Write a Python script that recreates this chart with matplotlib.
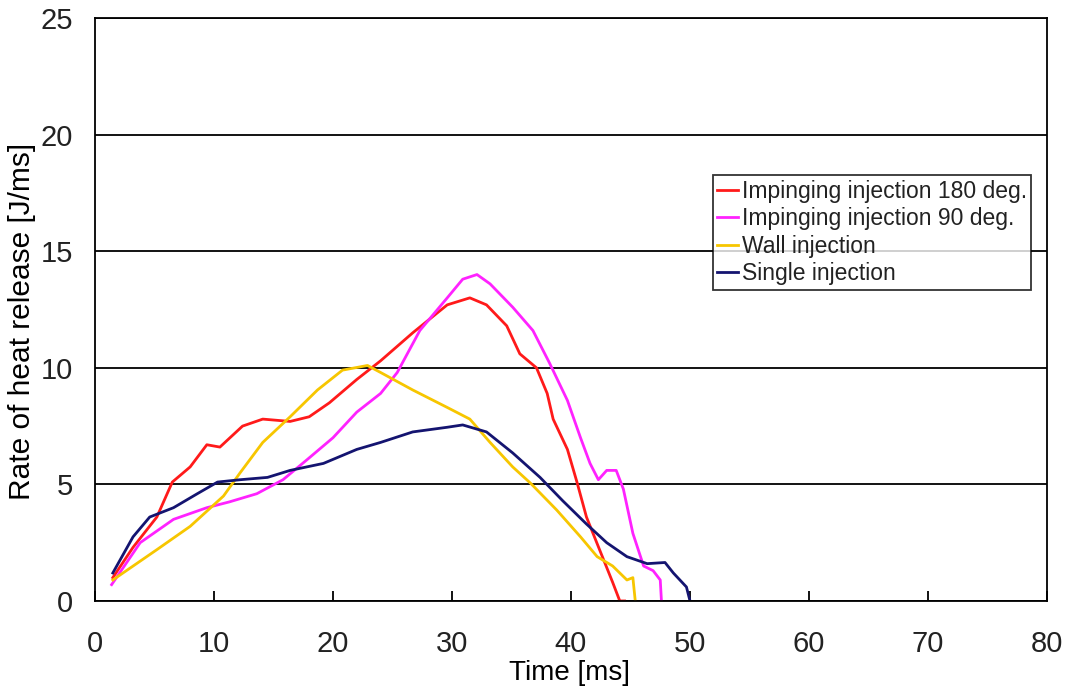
import matplotlib
matplotlib.use("Agg")
import matplotlib.pyplot as plt

# Impinging injection 180 deg.
red_x = [1.5, 3.2, 5.2, 6.5, 8.0, 9.4, 10.5, 12.4, 14.1, 16.4, 18.0, 19.7, 22.0, 24.0,
         26.7, 29.6, 31.5, 32.9, 34.6, 35.7, 37.1, 38.0, 38.5, 39.7, 40.5, 41.3, 42.4, 43.5, 44.1, 44.5]
red_y = [1.0, 2.3, 3.6, 5.1, 5.75, 6.7, 6.6, 7.5, 7.8, 7.7, 7.9, 8.5, 9.5, 10.3,
         11.5, 12.7, 13.0, 12.7, 11.8, 10.6, 10.0, 8.9, 7.8, 6.5, 5.1, 3.6, 2.2, 0.8, 0.0, 0.0]

# Impinging injection 90 deg.
mag_x = [1.4, 3.8, 6.6, 9.4, 11.3, 13.6, 15.8, 17.8, 20.0, 22.0, 24.0, 25.4, 27.3, 29.6,
         30.9, 32.1, 33.2, 35.1, 36.8, 38.2, 39.7, 40.8, 41.6, 42.3, 43.0, 43.8, 44.4, 45.2,
         46.1, 46.9, 47.5, 47.6]
mag_y = [0.7, 2.5, 3.5, 4.0, 4.25, 4.6, 5.2, 6.05, 7.0, 8.1, 8.9, 9.8, 11.6, 13.0,
         13.8, 14.0, 13.6, 12.6, 11.6, 10.2, 8.6, 7.0, 5.9, 5.2, 5.6, 5.6, 4.8, 2.9,
         1.5, 1.3, 0.9, 0.0]

# Wall injection
yel_x = [1.5, 5.2, 8.0, 10.8, 12.2, 14.1, 16.4, 18.7, 20.8, 22.9, 24.0, 26.7, 29.6, 31.5,
         33.2, 35.1, 36.6, 38.8, 40.8, 42.2, 43.5, 44.7, 45.2, 45.4]
yel_y = [0.9, 2.2, 3.2, 4.5, 5.5, 6.8, 7.9, 9.05, 9.9, 10.1, 9.8, 9.05, 8.3, 7.8,
         6.8, 5.75, 5.05, 3.9, 2.75, 1.9, 1.5, 0.9, 1.0, 0.0]

# Single injection
nav_x = [1.5, 3.2, 4.6, 6.6, 8.6, 10.3, 12.2, 14.5, 16.4, 19.2, 22.0, 24.0, 26.7, 29.6,
         30.9, 32.9, 35.1, 37.4, 39.3, 41.3, 43.0, 44.7, 46.4, 47.9, 48.6, 49.7, 50.0]
nav_y = [1.2, 2.75, 3.6, 4.0, 4.6, 5.1, 5.2, 5.3, 5.6, 5.9, 6.5, 6.8, 7.25, 7.45,
         7.55, 7.25, 6.35, 5.3, 4.3, 3.3, 2.5, 1.9, 1.6, 1.65, 1.2, 0.6, 0.0]

labels = ["Impinging injection 180 deg.", "Impinging injection 90 deg.",
          "Wall injection", "Single injection"]
x_ticks = [0, 10, 20, 30, 40, 50, 60, 70, 80]
y_ticks = [0, 5, 10, 15, 20, 25]

plt.rcParams['font.family'] = ['Liberation Sans', 'DejaVu Sans']
plt.rcParams['text.color'] = '#222222'

fig = plt.figure(figsize=(10.73, 6.95), dpi=100)
ax = fig.add_axes([0.0885, 0.1353, 0.8873, 0.8387])

ax.plot(red_x, red_y, color='#ff1a1a', lw=2.0, label=labels[0])
ax.plot(mag_x, mag_y, color='#ff22ff', lw=2.0, label=labels[1])
ax.plot(yel_x, yel_y, color='#f7c600', lw=2.0, label=labels[2])
ax.plot(nav_x, nav_y, color='#141470', lw=2.0, label=labels[3])

ax.set_xlim(0, 80)
ax.set_ylim(0, 25)
ax.set_xticks(x_ticks)
ax.set_yticks(y_ticks)
ax.yaxis.grid(True, color='black', lw=1.3)
ax.set_axisbelow(True)
for s in ax.spines.values():
    s.set_color('black')
    s.set_linewidth(1.3)
ax.tick_params(axis='x', direction='in', length=7, width=1.3, labelsize=21, pad=21,
               labelcolor='#222222')
ax.tick_params(axis='y', length=0, labelsize=21, pad=16, labelcolor='#222222')

ax.set_xlabel("Time [ms]", fontsize=20)
ax.xaxis.set_label_coords(0.498, -0.101)
ax.xaxis.label.set_va('top')
ax.set_ylabel("Rate of heat release [J/ms]", fontsize=21.5)
ax.yaxis.set_label_coords(-0.062, 0.48)

leg = ax.legend(loc='upper left', bbox_to_anchor=(0.649, 0.7307), fontsize=16.5,
                frameon=True, fancybox=False, edgecolor='black', handlelength=0.9,
                handletextpad=0.15, borderpad=0.2, labelspacing=0.2, borderaxespad=0)
leg.get_frame().set_linewidth(1.3)

fig.savefig("out.png", dpi=100)
